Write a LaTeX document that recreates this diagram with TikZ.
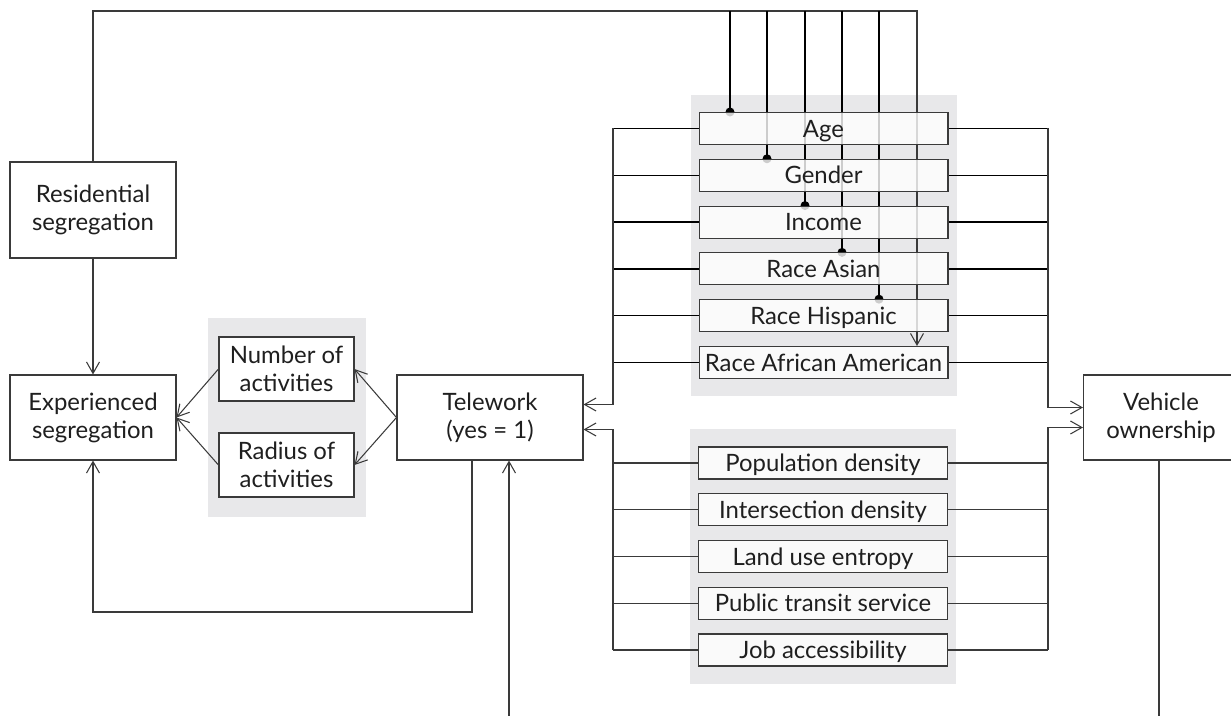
\documentclass[tikz,border=0pt]{standalone}
\usepackage{fontspec}
\setmainfont{Lato}
\usetikzlibrary{arrows.meta,backgrounds}
\definecolor{panel}{RGB}{232,232,234}
\definecolor{wirec}{RGB}{58,58,58}

\begin{document}
\begin{tikzpicture}[x=0.02cm,y=-0.02cm,
		>={Straight Barb[length=2.3mm,width=2.6mm]},
		every node/.style={font=\fontsize{13.6}{16}\selectfont, text=black!88},
		box/.style={draw=wirec, line width=0.6pt, fill=white, align=center, inner sep=0pt},
		item/.style={box, fill opacity=0.8, text opacity=1, minimum width=4.98cm, minimum height=0.64cm,
			text height=9.8pt, text depth=0pt},
		conn/.style={draw=wirec, line width=0.6pt},
		link/.style={draw=black, line width=0.9pt}]
		\useasboundingbox (0,0) rectangle (1231,716);
		\clip (0,0) rectangle (1231,716);
		%Boxes
		\node [box, minimum width=3.32cm, minimum height=1.92cm] (res) at (93,210) {Residential\\segregation};
		\node [box, minimum width=3.32cm, minimum height=1.7cm] (exp) at (93,417.5) {Experienced\\segregation};
		\node [box, minimum width=2.7cm, minimum height=1.28cm] (num) at (286.5,369) {Number of\\activities};
		\node [box, minimum width=2.7cm, minimum height=1.28cm] (rad) at (286.5,465) {Radius of\\activities};
		\node [box, minimum width=3.72cm, minimum height=1.7cm] (tel) at (490,417.5) {Telework\\(yes = 1)};
		\node [box, minimum width=3.1cm, minimum height=1.7cm] (veh) at (1161,417.5) {Vehicle\\ownership};
		%Individual
		\foreach \n/\t [count=\i from 0] in {age/Age, gen/Gender, inc/Income, asi/Race Asian, his/Race Hispanic, afr/Race African American}
			\node [item] (\n) at (823.5,{128.5+46.8*\i}) {\t};
		%Built environment
		\foreach \n/\t [count=\i from 0] in {pop/Population density, isd/Intersection density, lan/Land use entropy, pub/Public transit service, job/Job accessibility}
			\node [item] (\n) at (823,{463+46.75*\i}) {\t};
		\begin{scope}[on background layer]
			%Panels
			\fill [panel] (208,318) rectangle (366,517);
			\fill [panel] (691,95) rectangle (957,396);
			\fill [panel] (690,429) rectangle (956,684);
			%Segregation
			\draw [conn,->] (res) -- (exp);
			\draw [conn,->] (num.west) -- (exp.east);
			\draw [conn,->] (rad.west) -- (exp.east);
			\draw [conn,->] (tel.west) -- (num.east);
			\draw [conn,->] (tel.west) -- (rad.east);
			\coordinate (fb) at (472,612);
			\draw [conn,->] (fb |- tel.south) -- (fb) -| (exp.south);
			\coordinate (tb) at (509,716);
			\draw [conn,->] (tb) -- (tb |- tel.south);
			\coordinate (vb) at (1159,716);
			\draw [conn] (vb |- veh.south) -- (vb);
			%Top
			\coordinate (rs) at (917,11);
			\draw [conn,->] (res.north) |- (rs) -- (rs |- afr.north);
			\foreach \n/\x in {age/730,gen/767,inc/805,asi/842,his/879} {
				\draw [link] (\x,11) -- (\n.north -| \x,0);
				\fill (\n.north -| \x,0) circle (0.09cm);
			}
			%Trunks
			\coordinate (lt) at (613,0);
			\coordinate (rt) at (1048,0);
			\coordinate (ti1) at ([yshift=0.26cm]tel.east);
			\coordinate (ti2) at ([yshift=-0.24cm]tel.east);
			\coordinate (vi1) at ([yshift=0.2cm]veh.west);
			\coordinate (vi2) at ([yshift=-0.2cm]veh.west);
			\foreach \n in {age,gen,inc,asi,his,afr} {
				\draw [link] (\n.west) -- (\n.west -| lt);
				\draw [link] (\n.east) -- (\n.east -| rt);
			}
			\foreach \n in {pop,isd,lan,pub,job} {
				\draw [conn] (\n.west) -- (\n.west -| lt);
				\draw [conn] (\n.east) -- (\n.east -| rt);
			}
			\draw [conn,->] (age.west -| lt) |- (ti1);
			\draw [conn,->] (job.west -| lt) |- (ti2);
			\draw [conn,->] (age.east -| rt) |- (vi1);
			\draw [conn,->] (job.east -| rt) |- (vi2);
		\end{scope}
	\end{tikzpicture}
\end{document}
